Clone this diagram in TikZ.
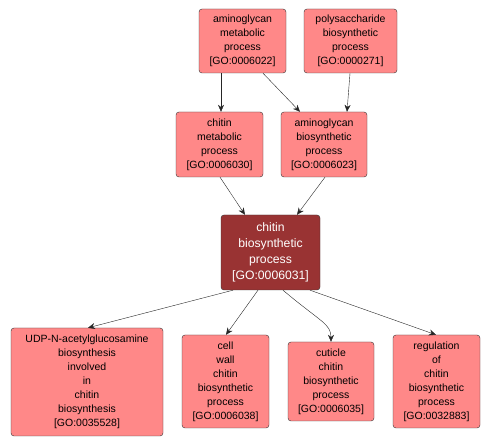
\documentclass[tikz,border=0pt]{standalone}
\usepackage{fontspec}
\setmainfont{Liberation Sans}
\usetikzlibrary{arrows.meta}
\definecolor{termfill}{RGB}{255,136,136}
\definecolor{focusfill}{RGB}{153,51,51}
\begin{document}
\begin{tikzpicture}[x=1pt,y=-1pt,
    term/.style={draw=black!80,fill=termfill,rounded corners=3pt,align=center,
      inner sep=1pt,font=\fontsize{10.5}{14}\selectfont},
    focus/.style={term,fill=focusfill,text=white,font=\fontsize{12.2}{16}\selectfont},
    link/.style={-{Stealth[length=7pt,width=6pt]},black!85}]
                    \useasboundingbox (0,0) rectangle (491,446);

                    \node[term,minimum width=87pt,minimum height=64pt] (amgmeta) at (242.5,41)
                        {aminoglycan\\metabolic\\process\\{}[GO:0006022]};
                    \node[term,minimum width=93pt,minimum height=64pt] (polybio) at (350.5,41)
                        {polysaccharide\\biosynthetic\\process\\{}[GO:0000271]};

                    \node[term,minimum width=87pt,minimum height=65pt] (chitmeta) at (219.5,144.5)
                        {chitin\\metabolic\\process\\{}[GO:0006030]};
                    \node[term,minimum width=86pt,minimum height=65pt] (amgbio) at (324,144.5)
                        {aminoglycan\\biosynthetic\\process\\{}[GO:0006023]};

                    \node[focus,minimum width=99pt,minimum height=75pt] (chitbio) at (270.5,252.5)
                        {chitin\\biosynthetic\\process\\{}[GO:0006031]};

                    \node[term,minimum width=152pt,minimum height=108pt] (udp) at (87,382)
                        {UDP-N-acetylglucosamine\\biosynthesis\\involved\\in\\chitin\\biosynthesis\\{}[GO:0035528]};
                    \node[term,minimum width=87pt,minimum height=93pt] (cellwall) at (225.5,381.5)
                        {cell\\wall\\chitin\\biosynthetic\\process\\{}[GO:0006038]};
                    \node[term,minimum width=86pt,minimum height=79pt] (cuticle) at (331,381.5)
                        {cuticle\\chitin\\biosynthetic\\process\\{}[GO:0006035]};
                    \node[term,minimum width=87pt,minimum height=93pt] (regul) at (436.5,381.5)
                        {regulation\\of\\chitin\\biosynthetic\\process\\{}[GO:0032883]};

                    \draw[link] ([xshift=-21.5pt]amgmeta.south) -- ([xshift=1.5pt]chitmeta.north);
                    \draw[link] ([xshift=20.5pt]amgmeta.south) -- ([xshift=-24pt]amgbio.north);
                    \draw[link] ([xshift=-0.5pt]polybio.south) -- ([xshift=23pt]amgbio.north);

                    \draw[link] ([xshift=0.5pt]chitmeta.south) -- ([xshift=-25.5pt]chitbio.north);
                    \draw[link] ([xshift=1pt]amgbio.south) -- ([xshift=26.5pt]chitbio.north);

                    \draw[link] ([xshift=-37.5pt]chitbio.south) -- ([xshift=1pt]udp.north);
                    \draw[link] ([xshift=-12.5pt]chitbio.south) -- ([xshift=0.5pt]cellwall.north);
                    \draw[link] ([xshift=12.5pt]chitbio.south) .. controls +(38,32) and +(0,-18) .. (cuticle.north);
                    \draw[link] ([xshift=39.5pt]chitbio.south) -- ([xshift=-0.5pt]regul.north);
                \end{tikzpicture}
\end{document}
